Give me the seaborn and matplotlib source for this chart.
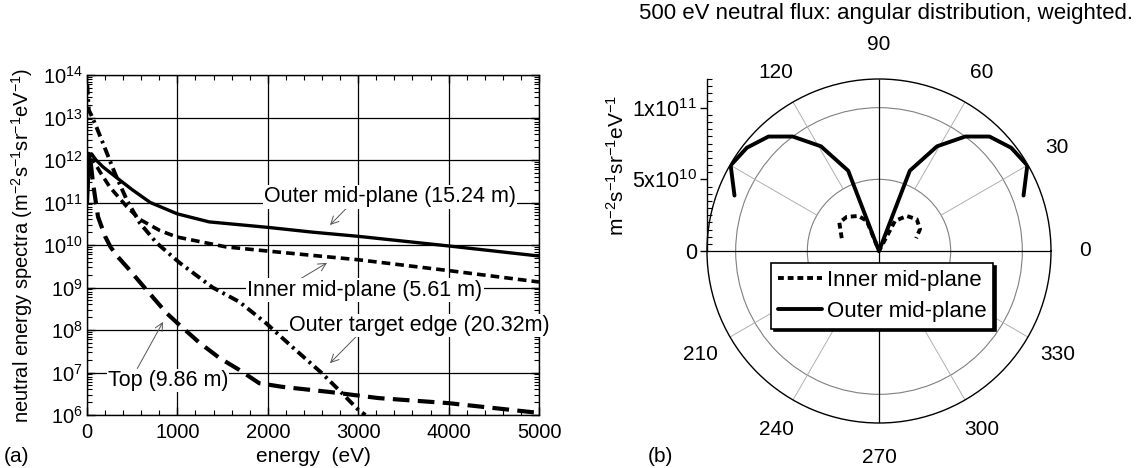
import numpy as np
import pandas as pd
import matplotlib
matplotlib.use("Agg")
import matplotlib.pyplot as plt
import seaborn as sns
from matplotlib.ticker import (LogLocator, MultipleLocator, FixedLocator,
                               FixedFormatter, NullFormatter)
from matplotlib.lines import Line2D

# ---------------- data ----------------
# (a) neutral energy spectra: energy (eV) vs flux (m^-2 s^-1 sr^-1 eV^-1)
outer_mid_energy = [5, 25, 50, 100, 176, 360, 500, 700, 1000, 1350, 2000, 2500, 3000, 4000, 5000]
outer_mid_flux = [1.0e11, 1.1e12, 1.4e12, 1.0e12, 6.9e11, 3.4e11, 2.0e11, 1.0e11, 5.4e10,
                  3.5e10, 2.6e10, 2.0e10, 1.6e10, 9.5e9, 5.5e9]

inner_mid_energy = [5, 30, 66, 150, 253, 440, 584, 804, 990, 1540, 2000, 2455, 3000, 4000, 5000]
inner_mid_flux = [2.0e11, 1.0e12, 1.0e12, 5.0e11, 2.3e11, 8.0e10, 4.0e10, 2.2e10, 1.55e10,
                  9.0e9, 7.2e9, 5.8e9, 4.5e9, 2.5e9, 1.35e9]

target_edge_energy = [3, 20, 50, 100, 176, 308, 440, 584, 770, 1025, 1390, 1685, 1980,
                      2270, 2590, 2785, 3005, 3080]
target_edge_flux = [6e13, 1.5e13, 1.1e13, 6.3e12, 2.5e12, 4.9e11, 1.15e11, 3.3e10, 1.12e10,
                    3.8e9, 1.0e9, 4.6e8, 1.45e8, 4.0e7, 1.0e7, 3.9e6, 1.3e6, 1.0e6]

top_energy = [3, 20, 40, 66, 122, 200, 260, 330, 450, 660, 880, 1025, 1245, 1465, 1685,
              1905, 2160, 2675, 3225, 4000, 5000]
top_flux = [6e11, 1.4e12, 9e11, 2.9e11, 4.6e10, 1.6e10, 9e9, 5.6e9, 2.9e9, 8.7e8, 2.5e8,
            1.3e8, 5e7, 2.2e7, 1.15e7, 5.6e6, 4.6e6, 3.5e6, 2.5e6, 1.9e6, 1.12e6]

# (b) 500 eV angular distribution: angle (deg) vs weighted flux
inner_theta_deg = [161, 144.5, 133.5, 120.5, 112, 90, 62, 51.5, 40, 28, 19]
inner_flux_ang = [2.75e10, 3.4e10, 3.28e10, 2.84e10, 2.27e10, 0.0,
                  2.38e10, 3.12e10, 3.44e10, 3.24e10, 2.74e10]
outer_theta_deg = [159, 150, 142, 134, 127, 119, 111, 90, 69, 61, 53, 46, 38, 30, 21]
outer_flux_ang = [1.08e11, 1.195e11, 1.17e11, 1.11e11, 1.0e11, 8.35e10, 6.0e10, 0.0,
                  6.0e10, 8.35e10, 1.0e11, 1.11e11, 1.17e11, 1.195e11, 1.08e11]

theta_tick_deg = [0, 30, 60, 90, 120, 150, 180, 210, 240, 270, 300, 330]
theta_tick_labels = ["0", "30", "60", "90", "120", "", "", "210", "240", "270", "300", "330"]
radial_ticks = [0, 5e10, 1e11]
radial_tick_labels = ["0", "5x10$^{10}$", "1x10$^{11}$"]

# ---------------- style ----------------
sns.set_theme(style="ticks")
plt.rcParams.update({
    "font.family": ["Liberation Sans", "DejaVu Sans"],
    "mathtext.fontset": "custom",
    "mathtext.rm": "Liberation Sans",
    "mathtext.it": "Liberation Sans:italic",
    "mathtext.bf": "Liberation Sans:bold",
    "axes.edgecolor": "black",
    "text.color": "black",
    "axes.labelcolor": "black",
    "xtick.color": "black",
    "ytick.color": "black",
    "axes.linewidth": 1.0,
})

W, H = 1138, 468
fig = plt.figure(figsize=(W / 100, H / 100), dpi=100)


def px_box(l, t, r, b):
    return [l / W, 1 - b / H, (r - l) / W, (b - t) / H]


# ---------------- (a) spectra ----------------
ax1 = fig.add_axes(px_box(87, 75, 539, 415))
ax1.set_yscale("log")
line_kw = dict(ax=ax1, color="black", estimator=None, sort=False, legend=False)
sns.lineplot(x=outer_mid_energy, y=outer_mid_flux, linewidth=2.4, linestyle="-", **line_kw)
sns.lineplot(x=inner_mid_energy, y=inner_mid_flux, linewidth=2.6,
             linestyle=(0, (2.4, 1.4)), **line_kw)
sns.lineplot(x=target_edge_energy, y=target_edge_flux, linewidth=2.8,
             linestyle=(0, (2.6, 1.2, 0.7, 1.2)), **line_kw)
sns.lineplot(x=top_energy, y=top_flux, linewidth=3.0,
             linestyle=(0, (4.0, 2.0)), **line_kw)

ax1.set_xlim(0, 5000)
ax1.set_ylim(1e6, 1e14)
ax1.xaxis.set_major_locator(MultipleLocator(1000))
ax1.xaxis.set_minor_locator(MultipleLocator(200))
ax1.yaxis.set_major_locator(LogLocator(base=10, numticks=20))
ax1.yaxis.set_minor_locator(LogLocator(base=10, subs=np.arange(2, 10), numticks=200))
ax1.yaxis.set_minor_formatter(NullFormatter())
ax1.tick_params(which="both", direction="in", top=True, right=True, labelsize=14.5)
ax1.tick_params(which="major", length=6, width=1)
ax1.tick_params(which="minor", length=3.5, width=0.8)
ax1.tick_params(axis="y", pad=3)
ax1.tick_params(axis="x", pad=6)
ax1.grid(True, which="major", color="black", linewidth=0.9)
ax1.set_axisbelow(True)
ax1.set_xlabel("energy  (eV)", fontsize=15, labelpad=3)
ax1.set_ylabel("neutral energy spectra (m$^{-2}$s$^{-1}$sr$^{-1}$eV$^{-1}$)",
               fontsize=14.5, labelpad=6)

box = dict(boxstyle="square,pad=0.05", fc="white", ec="none")


def arrow(relpos):
    return dict(arrowstyle="->", color="#555555", lw=0.7, shrinkA=0, shrinkB=0,
                mutation_scale=14, relpos=relpos)


ax1.annotate("Outer mid-plane (15.24 m)", xy=(2688, 2.95e10), xytext=(3352, 1.35e11),
             ha="center", va="center", fontsize=15.5, bbox=box, arrowprops=arrow((0.33, 0)))
ax1.annotate("Inner mid-plane (5.61 m)", xy=(2655, 3.8e9), xytext=(3075, 8.7e8),
             ha="center", va="center", fontsize=15.5, bbox=box, arrowprops=arrow((0.22, 1)))
ax1.annotate("Outer target edge (20.32m)", xy=(2688, 1.66e7), xytext=(3680, 1.3e8),
             ha="center", va="center", fontsize=15.5, bbox=box, arrowprops=arrow((0.26, 0)))
ax1.annotate("Top (9.86 m)", xy=(841, 1.55e8), xytext=(896, 6.6e6),
             ha="center", va="center", fontsize=15.5, bbox=box, arrowprops=arrow((0.24, 1)))

fig.text(4 / W, 1 - 456 / H, "(a)", fontsize=15, va="center", ha="left")

# ---------------- (b) angular distribution ----------------
RMAX = 1.2e11
ax2 = fig.add_axes(px_box(707, 79, 1051, 423), projection="polar")
ax2.set_ylim(0, RMAX)
ax2.vlines(np.deg2rad([30, 60, 120, 150, 210, 240, 300, 330]), 5e10, RMAX,
           colors="#b0b0b0", linewidth=0.7, zorder=1)
ax2.vlines(np.deg2rad([0, 90, 180, 270]), 0, RMAX, colors="black", linewidth=0.9, zorder=1.5)

pol_kw = dict(ax=ax2, color="black", estimator=None, sort=False, legend=False)
sns.lineplot(x=np.deg2rad(inner_theta_deg), y=inner_flux_ang, linewidth=2.8,
             linestyle=(0, (1.5, 1.0)), **pol_kw)
sns.lineplot(x=np.deg2rad(outer_theta_deg), y=outer_flux_ang, linewidth=2.8,
             linestyle="-", **pol_kw)
ax2.set_ylim(0, RMAX)

ax2.set_thetagrids(theta_tick_deg, theta_tick_labels, fontsize=15)
ax2.xaxis.grid(False)
ax2.tick_params(axis="x", pad=17.5, length=0)
ax2.set_rgrids([5e10, 1e11], labels=["", ""])
ax2.yaxis.grid(True, color="#808080", linewidth=0.8)
ax2.spines["polar"].set_color("black")
ax2.spines["polar"].set_linewidth(1.0)
ax2.set_xlabel("")
ax2.set_ylabel("")

handles = [Line2D([], [], color="black", linewidth=2.8, linestyle=(0, (1.5, 1.0))),
           Line2D([], [], color="black", linewidth=2.8, linestyle="-")]
leg = ax2.legend(handles, ["Inner mid-plane", "Outer mid-plane"], loc="center",
                 bbox_to_anchor=(882 / W, 1 - 296 / H), bbox_transform=fig.transFigure,
                 fontsize=16, frameon=True, fancybox=False, shadow={"color": "black", "alpha": 1},
                 borderpad=0.3, handlelength=2.0, handletextpad=0.2, labelspacing=0.45,
                 borderaxespad=0)
leg.get_frame().set_edgecolor("black")
leg.get_frame().set_linewidth(1.2)
leg.get_frame().set_alpha(1)
leg.set_zorder(10)

# radial scale on the left (vertical axis from centre to top)
axr = fig.add_axes(px_box(707, 79, 708, 251))
axr.set_ylim(0, RMAX)
axr.set_xlim(0, 1)
axr.patch.set_visible(False)
for s in ["right", "top", "bottom"]:
    axr.spines[s].set_visible(False)
axr.spines["left"].set_linewidth(1.0)
axr.set_xticks([])
axr.yaxis.set_major_locator(FixedLocator(radial_ticks))
axr.yaxis.set_major_formatter(FixedFormatter(radial_tick_labels))
axr.yaxis.set_minor_locator(MultipleLocator(5e9))
axr.tick_params(axis="y", which="major", direction="out", length=5, width=1,
                labelsize=15.5, pad=2)
axr.tick_params(axis="y", which="minor", direction="in", length=3.5, width=0.8)
axr.set_ylabel("m$^{-2}$s$^{-1}$sr$^{-1}$eV$^{-1}$", fontsize=15, labelpad=3)

fig.text(886 / W, 1 - 14 / H, "500 eV neutral flux: angular distribution, weighted.",
         fontsize=16, ha="center", va="center")
fig.text(648 / W, 1 - 456 / H, "(b)", fontsize=15, va="center", ha="left")

fig.savefig("out.png", dpi=100)
